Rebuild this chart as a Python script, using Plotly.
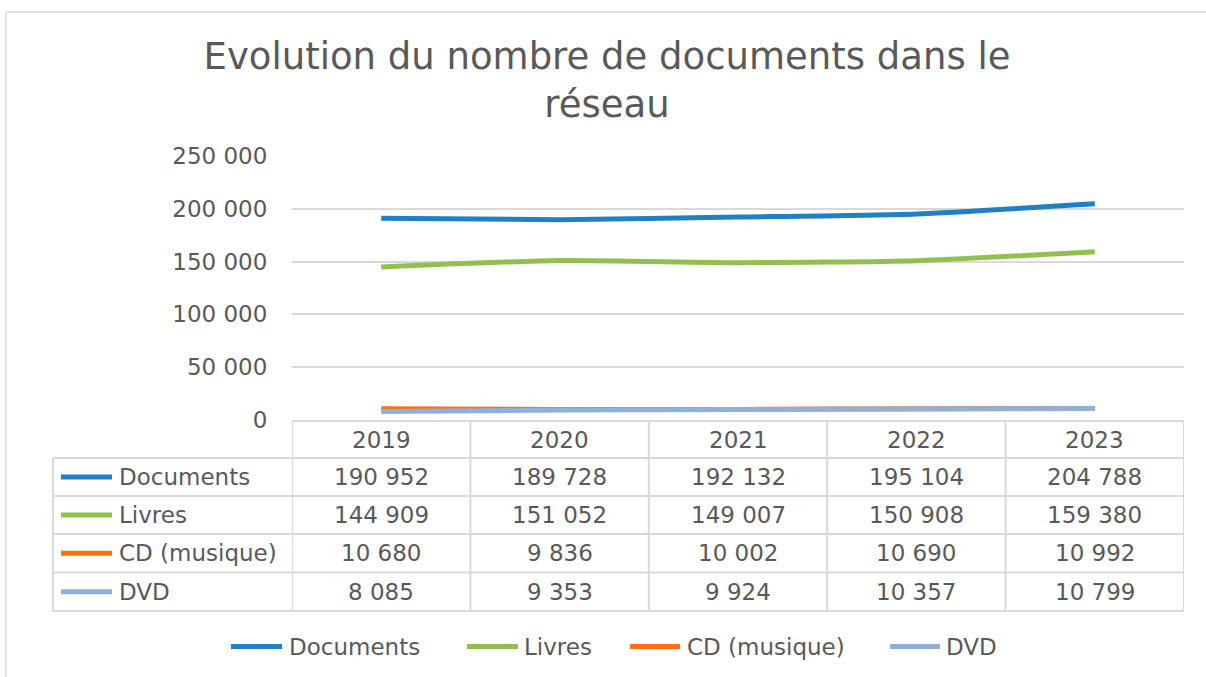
import plotly.graph_objects as go

# ---- data ----
years = ["2019", "2020", "2021", "2022", "2023"]
series_names = ["Documents", "Livres", "CD (musique)", "DVD"]
documents = [190952, 189728, 192132, 195104, 204788]
livres = [144909, 151052, 149007, 150908, 159380]
cd_musique = [10680, 9836, 10002, 10690, 10992]
dvd = [8085, 9353, 9924, 10357, 10799]
y_ticks = [0, 50000, 100000, 150000, 200000, 250000]
title_text = "Evolution du nombre de documents dans le<br>réseau"

series_values = [documents, livres, cd_musique, dvd]
colors = ["#1F80C3", "#92C050", "#FF7010", "#90B0DC"]

FONT = "DejaVu Sans"
TXT = "#595959"
GRID = "#D9D9D9"

W, H = 1206, 677
L, R, T, B = 292, 1184, 156, 420
PW, PH = R - L, B - T


def fx(p):
    return (p - L) / PW


def fy(p):
    return (B - p) / PH


def fmt(v):
    return f"{v:,}".replace(",", " ")


fig = go.Figure()
for name, vals, col in zip(series_names, series_values, colors):
    fig.add_trace(go.Scatter(
        x=years, y=vals, name=name, mode="lines",
        line=dict(color=col, width=5, shape="spline", smoothing=0.6),
        hoverinfo="x+y+name",
    ))

shapes = []
annotations = []

# outer chart frame (left and top)
shapes.append(dict(type="line", xref="paper", yref="paper",
                   x0=fx(6), y0=fy(680), x1=fx(6), y1=fy(12),
                   line=dict(color=GRID, width=1.5)))
shapes.append(dict(type="line", xref="paper", yref="paper",
                   x0=fx(6), y0=fy(12), x1=fx(1210), y1=fy(12),
                   line=dict(color=GRID, width=1.5)))

# ---- data table ----
header_top, header_bot = 421, 458
row_edges = [458, 496, 534, 572.5, 611]
tab_left = 53
bw = 2

shapes.append(dict(type="line", xref="paper", yref="paper",
                   x0=fx(L), y0=fy(header_top), x1=fx(R), y1=fy(header_top),
                   line=dict(color=GRID, width=bw)))
for ye in row_edges:
    shapes.append(dict(type="line", xref="paper", yref="paper",
                       x0=fx(tab_left), y0=fy(ye), x1=fx(R), y1=fy(ye),
                       line=dict(color=GRID, width=bw)))
shapes.append(dict(type="line", xref="paper", yref="paper",
                   x0=fx(tab_left), y0=fy(row_edges[0]), x1=fx(tab_left), y1=fy(row_edges[-1]),
                   line=dict(color=GRID, width=bw)))
n = len(years)
for k in range(n + 1):
    xb = k - 0.5
    shapes.append(dict(type="line", xref="x", yref="paper",
                       x0=xb, y0=fy(header_top), x1=xb, y1=fy(row_edges[-1]),
                       line=dict(color=GRID, width=bw)))

TFS = 23
for i, yr in enumerate(years):
    annotations.append(dict(xref="x", yref="paper", x=i, y=fy((header_top + header_bot) / 2),
                            text=yr, showarrow=False, xanchor="center", yanchor="middle",
                            font=dict(family=FONT, size=TFS, color=TXT)))
for r, (name, vals, col) in enumerate(zip(series_names, series_values, colors)):
    yc = (row_edges[r] + row_edges[r + 1]) / 2
    shapes.append(dict(type="line", xref="paper", yref="paper",
                       x0=fx(61), y0=fy(yc), x1=fx(112), y1=fy(yc),
                       line=dict(color=col, width=5)))
    annotations.append(dict(xref="paper", yref="paper", x=fx(117), y=fy(yc),
                            text=name, showarrow=False, xanchor="left", yanchor="middle",
                            font=dict(family=FONT, size=TFS, color=TXT)))
    for i, v in enumerate(vals):
        annotations.append(dict(xref="x", yref="paper", x=i, y=fy(yc),
                                text=fmt(v), showarrow=False, xanchor="center", yanchor="middle",
                                font=dict(family=FONT, size=TFS, color=TXT)))

# ---- bottom legend ----
leg_y = 646.5
leg_swatches = [(231, 282, 287), (467, 518, 522), (630, 680, 685), (890, 940, 944)]
for (s0, s1, tx), name, col in zip(leg_swatches, series_names, colors):
    shapes.append(dict(type="line", xref="paper", yref="paper",
                       x0=fx(s0), y0=fy(leg_y), x1=fx(s1), y1=fy(leg_y),
                       line=dict(color=col, width=5)))
    annotations.append(dict(xref="paper", yref="paper", x=fx(tx), y=fy(leg_y),
                            text=name, showarrow=False, xanchor="left", yanchor="middle",
                            font=dict(family=FONT, size=TFS, color=TXT)))

fig.update_layout(
    width=W, height=H,
    margin=dict(l=L, r=W - R, t=T, b=H - B, pad=0),
    paper_bgcolor="white", plot_bgcolor="white",
    showlegend=False,
    title=dict(text=title_text, x=607 / W, xanchor="center", xref="container",
               y=1 - 69 / H, yanchor="top", yref="container",
               font=dict(family=FONT, size=37, color=TXT)),
    font=dict(family=FONT, color=TXT),
    shapes=shapes,
    annotations=annotations,
    xaxis=dict(type="category", range=[-0.5, n - 0.5], showticklabels=False,
               showgrid=False, zeroline=False, showline=False, ticks=""),
    yaxis=dict(range=[0, 250000], tickvals=y_ticks, ticktext=[fmt(v) for v in y_ticks],
               showgrid=True, gridcolor=GRID, gridwidth=1.5, zeroline=False,
               showline=False, ticks="outside", ticklen=19, tickcolor="rgba(0,0,0,0)",
               tickfont=dict(family=FONT, size=TFS, color=TXT)),
)

fig.write_html(
    "out.html",
    config={"displayModeBar": False},
    post_script="document.body.style.margin='0';document.body.style.overflow='hidden';",
)
